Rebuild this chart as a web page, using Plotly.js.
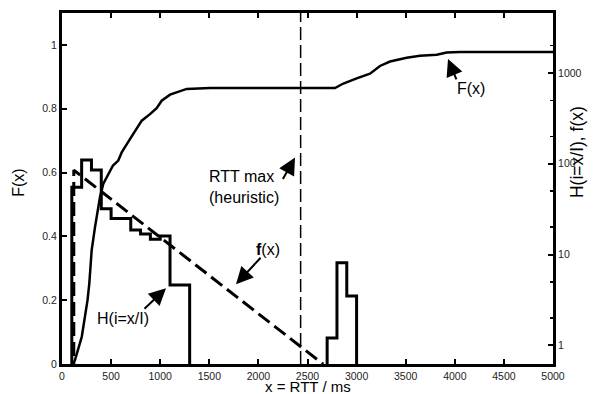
<!DOCTYPE html>
<html>
<head>
<meta charset="utf-8">
<script src="https://cdn.plot.ly/plotly-3.0.1.min.js"></script>
<style>html,body{margin:0;padding:0;background:#fff;}#chart{width:602px;height:394px;}</style>
</head>
<body>
<div id="chart"></div>
<script>
// ---- data ----
// Empirical distribution F(x) (left axis)
const cdfX = [112, 132, 201, 260, 278, 285, 302, 336, 387, 421, 489, 519, 573, 608, 692, 812, 896, 964, 1015, 1100, 1270, 1507, 2780, 2865, 3001, 3136, 3238, 3340, 3510, 3646, 3816, 3917, 4053, 5000];
const cdfY = [0, 0.0125, 0.085, 0.20, 0.252, 0.294, 0.356, 0.429, 0.523, 0.565, 0.606, 0.622, 0.6375, 0.663, 0.705, 0.7625, 0.783, 0.802, 0.825, 0.844, 0.862, 0.865, 0.865, 0.879, 0.895, 0.910, 0.934, 0.948, 0.960, 0.966, 0.969, 0.976, 0.978, 0.978];

// Histogram H(i=x/I) (right, log axis): bin edges and counts
const histEdgesA = [100, 200, 300, 400, 500, 700, 800, 900, 1000, 1100, 1300];
const histValsA  = [55, 110, 85, 32, 25, 18.6, 16.8, 14.7, 16, 4.6];
const histEdgesB = [2700, 2800, 2900, 3000];
const histValsB  = [1.2, 8.1, 3.5];
const histFloor = 0.1;   // below visible range (stands for zero on log axis)

// Fitted density f(x) (right, log axis)
const fitX = [120, 120, 2660];
const fitY = [0.1, 85, 0.62];

// Heuristic maximum RTT
const rttMax = 2430;

// Tick labels
const xTicks = [0, 500, 1000, 1500, 2000, 2500, 3000, 3500, 4000, 4500, 5000];
const yTicks = [0, 0.2, 0.4, 0.6, 0.8, 1];
const yTickText = ['0', '0.2', '0.4', '0.6', '0.8', '1'];
const y2Ticks = [1, 10, 100, 1000];
const y2TickText = ['1', '10', '100', '1000'];

// ---- build ----
function stepXY(edges, vals, floor) {
  return { x: [edges[0]].concat(edges), y: [floor].concat(vals, [floor]) };
}
const hA = stepXY(histEdgesA, histValsA, histFloor);
const hB = stepXY(histEdgesB, histValsB, histFloor);

const FONT = 'Liberation Sans, Arial, Helvetica, sans-serif';

const traces = [
  { x: hA.x, y: hA.y, yaxis: 'y2', mode: 'lines', line: { shape: 'hv', color: '#000', width: 3 }, hoverinfo: 'skip' },
  { x: hB.x, y: hB.y, yaxis: 'y2', mode: 'lines', line: { shape: 'hv', color: '#000', width: 3 }, hoverinfo: 'skip' },
  { x: fitX, y: fitY, yaxis: 'y2', mode: 'lines', line: { color: '#000', width: 3, dash: '14px,6px' }, hoverinfo: 'skip' },
  { x: cdfX, y: cdfY, yaxis: 'y', mode: 'lines', line: { color: '#000', width: 2.5 }, hoverinfo: 'skip' },
  { x: [rttMax, rttMax], y: [0, 1.1], yaxis: 'y', mode: 'lines', line: { color: '#000', width: 1.5, dash: '13px,5px' }, hoverinfo: 'skip' }
];

const txt = { family: FONT, size: 16, color: '#000' };
function arrow(x, y, ax, ay) {
  return { x: x, y: y, xref: 'x', yref: 'y', text: '', showarrow: true, ax: ax, ay: ay,
           arrowhead: 2, arrowsize: 1.7, arrowwidth: 2, arrowcolor: '#000', standoff: 0, startstandoff: 0 };
}

const layout = {
  width: 602, height: 394,
  margin: { l: 62, r: 49, t: 13, b: 30, pad: 0 },
  paper_bgcolor: '#fff', plot_bgcolor: '#fff',
  showlegend: false,
  font: { family: FONT, size: 10.5, color: '#222' },
  xaxis: {
    range: [0, 5000], tickvals: xTicks, ticks: 'inside', ticklen: 5, tickwidth: 2, tickcolor: '#000',
    showline: true, linewidth: 3, linecolor: '#000', mirror: 'ticks', showgrid: false, zeroline: false,
    tickfont: { family: FONT, size: 10.5, color: '#222' }
  },
  yaxis: {
    range: [0, 1.1], tickvals: yTicks, ticktext: yTickText, ticks: 'inside', ticklen: 5, tickwidth: 2, tickcolor: '#000',
    showline: true, linewidth: 3, linecolor: '#000', showgrid: false, zeroline: false,
    tickfont: { family: FONT, size: 10.5, color: '#222' }
  },
  yaxis2: {
    overlaying: 'y', side: 'right', type: 'log', range: [-0.206, 3.66],
    tickvals: y2Ticks, ticktext: y2TickText, ticks: 'inside', ticklen: 5, tickwidth: 2, tickcolor: '#000',
    minor: { ticks: 'inside', ticklen: 3, tickwidth: 1.5, tickcolor: '#000', dtick: 'D2' },
    showline: true, linewidth: 3, linecolor: '#000', showgrid: false, zeroline: false,
    tickfont: { family: FONT, size: 10.5, color: '#222' }
  },
  annotations: [
    // axis titles
    { xref: 'paper', yref: 'paper', x: 0.5, y: -0.0655, text: 'x = RTT / ms', showarrow: false, font: { family: FONT, size: 15, color: '#000' }, xanchor: 'center', yanchor: 'middle', borderpad: 0 },
    { xref: 'paper', yref: 'paper', x: -0.0876, y: 0.516, text: 'F(x)', showarrow: false, font: txt, textangle: -90, xanchor: 'center', yanchor: 'middle' },
    { xref: 'paper', yref: 'paper', x: 1.049, y: 0.604, text: 'H(i=x/I), f(x)', showarrow: false, font: { family: FONT, size: 17.5, color: '#000' }, textangle: -90, xanchor: 'center', yanchor: 'middle' },
    // labels
    { x: 4165, y: 0.8625, xref: 'x', yref: 'y', text: 'F(x)', showarrow: false, font: txt },
    { x: 1477, y: 0.556, xref: 'x', yref: 'y', text: 'RTT max<br>(heuristic)', align: 'left', xanchor: 'left', showarrow: false, font: txt },
    { x: 2098, y: 0.359, xref: 'x', yref: 'y', text: '<b>f</b>(x)', showarrow: false, font: txt },
    { x: 621, y: 0.144, xref: 'x', yref: 'y', text: 'H(i=x/I)', showarrow: false, font: txt },
    // arrows
    arrow(3931, 0.956, 9, 22),
    arrow(2373, 0.647, -13, 23),
    arrow(1772, 0.25, 26, -28),
    arrow(1059, 0.2375, -23, 22)
  ]
};

Plotly.newPlot('chart', traces, layout, { staticPlot: true, displayModeBar: false });
</script>
</body>
</html>
